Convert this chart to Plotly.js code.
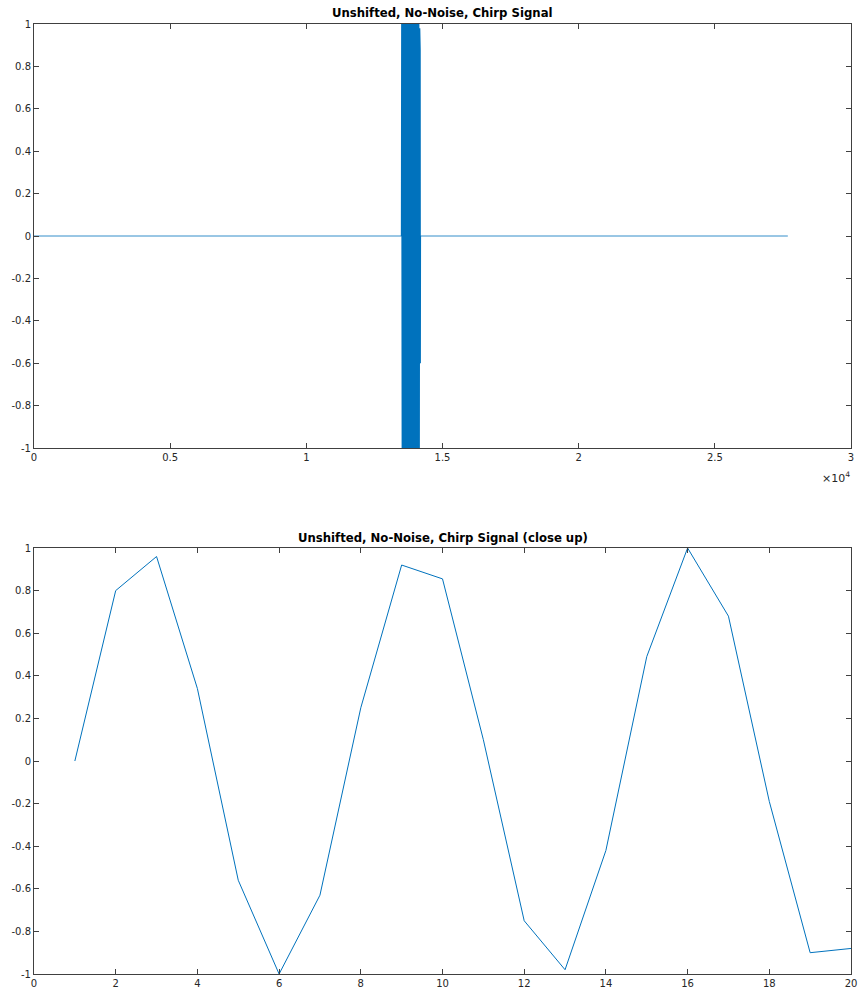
<!DOCTYPE html>
<html>
<head>
<meta charset="utf-8">
<script src="https://cdn.plot.ly/plotly-3.0.1.min.js"></script>
<style>
  html, body { margin: 0; padding: 0; background: #ffffff; }
  #chart { width: 860px; height: 992px; }
</style>
</head>
<body>
<div id="chart"></div>
<script>
// Full record: flat at zero from the first to the last sample
const baseX = [1, 27680];
const baseY = [0, 0];

// The chirp burst near sample 13.5k (dense oscillation between -1 and 1)
const burstX = [
  13500, 13510, 13528, 13546, 13564, 13582, 13600, 13618, 13636, 13654, 13672,
  13690, 13708, 13726, 13744, 13762, 13780, 13798, 13816, 13834, 13852,
  13870, 13888, 13906, 13924, 13942, 13960, 13978, 13996, 14014, 14032,
  14050, 14068, 14086, 14104, 14122, 14140, 14156, 14166, 14172, 14178,
  14184
];
const burstY = [
  0, 1, -1, 1, -1, 1, -1, 1, -1, 1, -1,
  1, -1, 1, -1, 1, -1, 1, -1, 1, -1,
  1, -1, 1, -1, 1, -1, 1, -1, 1, -1,
  1, -1, 1, -1, 1, -1, 0.98, -0.97, 0.88, -0.6,
  0
];

// First twenty samples of the chirp
const closeX = [1, 2, 3, 4, 5, 6, 7, 8, 9, 10, 11, 12, 13, 14, 15, 16, 17, 18, 19, 20];
const closeY = [0, 0.80, 0.96, 0.34, -0.56, -1.0, -0.63, 0.25, 0.92, 0.855,
                0.10, -0.75, -0.98, -0.42, 0.49, 1.0, 0.68, -0.19, -0.90, -0.88];

// Tick positions and labels
const topXTicks = [0, 5000, 10000, 15000, 20000, 25000, 30000];
const topXLabels = ['0', '0.5', '1', '1.5', '2', '2.5', '3'];
const yTicks = [-1, -0.8, -0.6, -0.4, -0.2, 0, 0.2, 0.4, 0.6, 0.8, 1];
const yLabels = ['-1', '-0.8', '-0.6', '-0.4', '-0.2', '0', '0.2', '0.4', '0.6', '0.8', '1'];
const bottomXTicks = [0, 2, 4, 6, 8, 10, 12, 14, 16, 18, 20];
const bottomXLabels = ['0', '2', '4', '6', '8', '10', '12', '14', '16', '18', '20'];

const titles = ['Unshifted, No-Noise, Chirp Signal', 'Unshifted, No-Noise, Chirp Signal (close up)'];

const lineBlue = '#0072BD';
const axisGray = '#404040';
const textGray = '#262626';
const tickFont = { family: 'DejaVu Sans, sans-serif', size: 10, color: textGray };

function axisStyle(extra) {
  return Object.assign({
    showgrid: false,
    zeroline: false,
    showline: true,
    linecolor: axisGray,
    linewidth: 1,
    mirror: 'ticks',
    ticks: 'inside',
    ticklen: 5,
    tickwidth: 1,
    tickcolor: axisGray,
    tickfont: tickFont,
    tickmode: 'array',
    fixedrange: true
  }, extra);
}

const traces = [
  {
    x: baseX, y: baseY, xaxis: 'x', yaxis: 'y',
    type: 'scatter', mode: 'lines',
    line: { color: lineBlue, width: 0.8 },
    hoverinfo: 'skip'
  },
  {
    x: burstX, y: burstY, xaxis: 'x', yaxis: 'y',
    type: 'scatter', mode: 'lines',
    line: { color: lineBlue, width: 1.6 },
    hoverinfo: 'skip'
  },
  {
    x: closeX, y: closeY, xaxis: 'x2', yaxis: 'y2',
    type: 'scatter', mode: 'lines',
    line: { color: lineBlue, width: 1 },
    hoverinfo: 'skip'
  }
];

const W = 860, H = 992;
const layout = {
  width: W, height: H,
  margin: { l: 0, r: 0, t: 0, b: 0 },
  paper_bgcolor: '#ffffff',
  plot_bgcolor: '#ffffff',
  showlegend: false,
  xaxis: axisStyle({
    domain: [34 / W, 851 / W], range: [0, 30000],
    tickvals: topXTicks, ticktext: topXLabels, anchor: 'y'
  }),
  yaxis: axisStyle({
    domain: [1 - 448 / H, 1 - 24 / H], range: [-1, 1],
    tickvals: yTicks, ticktext: yLabels, anchor: 'x'
  }),
  xaxis2: axisStyle({
    domain: [34 / W, 851 / W], range: [0, 20],
    tickvals: bottomXTicks, ticktext: bottomXLabels, anchor: 'y2'
  }),
  yaxis2: axisStyle({
    domain: [1 - 974 / H, 1 - 548 / H], range: [-1, 1],
    tickvals: yTicks, ticktext: yLabels, anchor: 'x2'
  }),
  annotations: [
    {
      text: '<b>' + titles[0] + '</b>',
      xref: 'paper', yref: 'paper',
      x: 442.5 / W, y: 1 - 13 / H,
      xanchor: 'center', yanchor: 'middle', showarrow: false,
      font: { family: 'DejaVu Sans, sans-serif', size: 11.7, color: '#000000' }
    },
    {
      text: '<b>' + titles[1] + '</b>',
      xref: 'paper', yref: 'paper',
      x: 442.5 / W, y: 1 - 538 / H,
      xanchor: 'center', yanchor: 'middle', showarrow: false,
      font: { family: 'DejaVu Sans, sans-serif', size: 11.7, color: '#000000' }
    },
    {
      text: '×10<sup>4</sup>',
      xref: 'paper', yref: 'paper',
      x: 852 / W, y: 1 - 477 / H,
      xanchor: 'right', yanchor: 'middle', showarrow: false,
      font: { family: 'DejaVu Sans, sans-serif', size: 11, color: textGray }
    }
  ]
};

Plotly.newPlot('chart', traces, layout, { staticPlot: true, displayModeBar: false });
</script>
</body>
</html>
